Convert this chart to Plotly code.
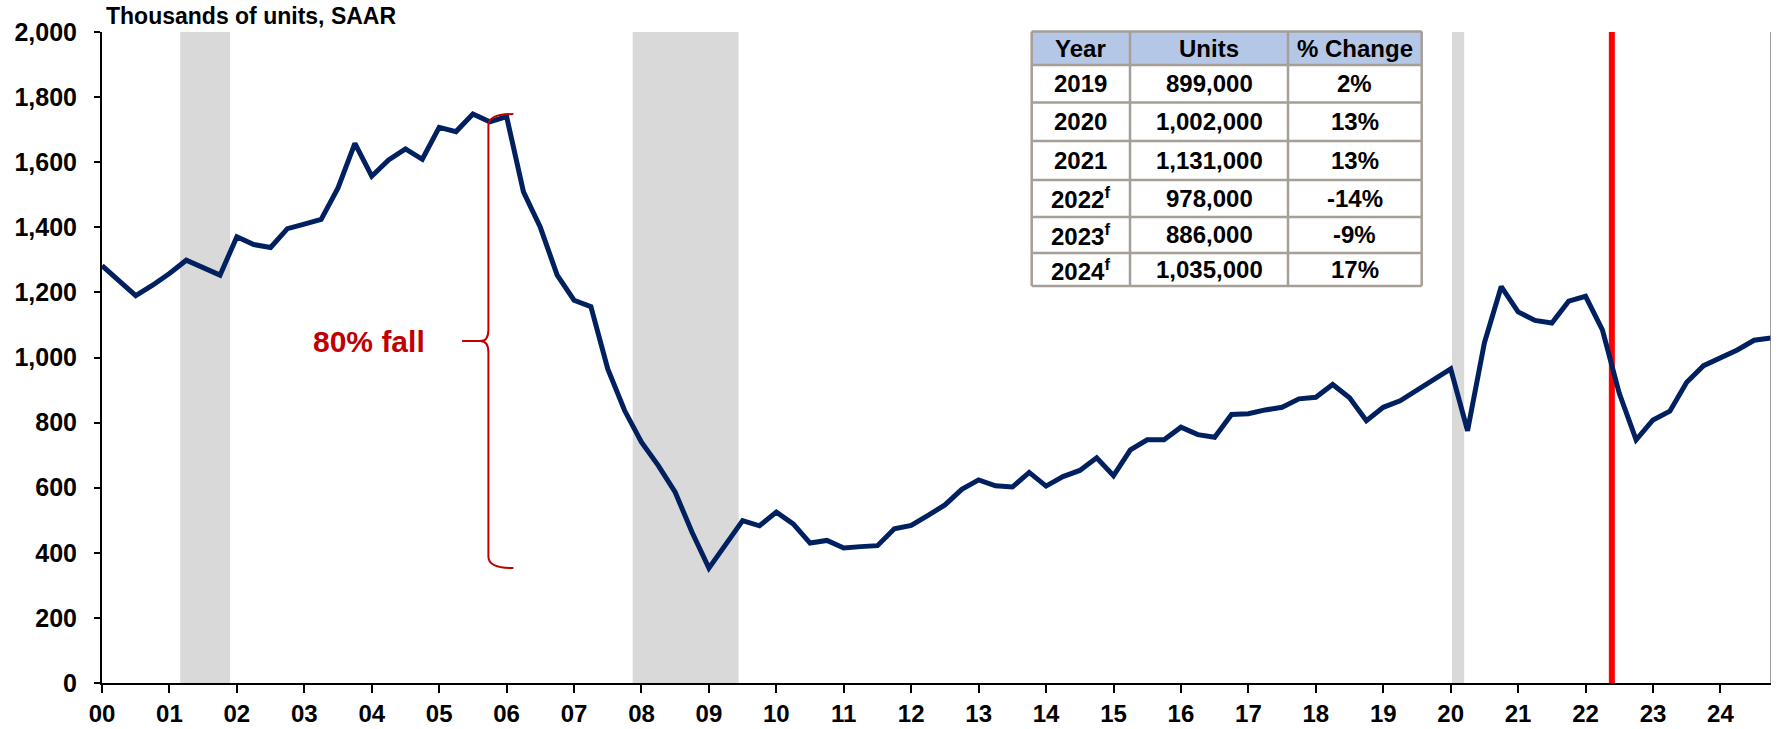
import plotly.graph_objects as go

# quarterly housing starts, thousands of units SAAR (2000Q1 .. 2024Q4)
years = list(range(2000, 2025))
units = [
    1282, 1236, 1190, 1222,   # 2000
    1258, 1299, 1274, 1253,   # 2001
    1371, 1347, 1338, 1396,   # 2002
    1410, 1424, 1521, 1658,   # 2003
    1557, 1607, 1641, 1609,   # 2004
    1707, 1694, 1748, 1724,   # 2005
    1740, 1509, 1400, 1253,   # 2006
    1176, 1156, 965, 837,     # 2007
    740, 668, 586, 463,       # 2008
    353, 426, 499, 483,       # 2009
    525, 489, 430, 438,       # 2010
    415, 419, 422, 474,       # 2011
    484, 515, 547, 595,       # 2012
    624, 606, 602, 647,       # 2013
    605, 634, 653, 692,       # 2014
    637, 716, 747, 747,       # 2015
    786, 763, 755, 825,       # 2016
    827, 839, 847, 873,       # 2017
    878, 917, 876, 806,       # 2018
    847, 867, 900, 934,       # 2019
    965, 775, 1045, 1218,     # 2020
    1140, 1114, 1106, 1173,   # 2021
    1188, 1085, 890, 747,     # 2022
    808, 835, 924, 975,       # 2023
    998, 1023, 1053, 1060,    # 2024
]
quarters = [y + q / 4 for y in years for q in range(4)]

# recession periods (fractional years)
recessions = [(2001.16, 2001.90), (2007.87, 2009.44), (2020.02, 2020.20)]
forecast_line = 2022.39

tick_vals = years
tick_text = [f"{y % 100:02d}" for y in years]

table_header = ["Year", "Units", "% Change"]
table_years = ["2019", "2020", "2021", "2022<sup>f</sup>", "2023<sup>f</sup>", "2024<sup>f</sup>"]
table_units = ["899,000", "1,002,000", "1,131,000", "978,000", "886,000", "1,035,000"]
table_change = ["2%", "13%", "13%", "-14%", "-9%", "17%"]

FONT = "Liberation Sans, Arial, sans-serif"
NAVY = "#002060"
DARKRED = "#C00000"
W, H = 1781, 729
# plot area in pixels: x 102..1771, y 32..683
ML, MR, MT, MB = 102, 10, 32, 46


def px_x(px):
    return (px - ML) / (W - ML - MR)


def px_y(py):
    return (H - MB - py) / (H - MT - MB)


fig = go.Figure()

fig.add_trace(go.Scatter(
    x=quarters, y=units, mode="lines",
    line=dict(color=NAVY, width=5),
    showlegend=False, hoverinfo="skip",
))

# recession shading
for x0, x1 in recessions:
    fig.add_shape(type="rect", xref="x", yref="paper", x0=x0, x1=x1, y0=0, y1=1,
                  fillcolor="#D9D9D9", line=dict(width=0), layer="below")

# forecast marker
fig.add_shape(type="line", xref="x", yref="paper", x0=forecast_line, x1=forecast_line,
              y0=0, y1=1, line=dict(color="#FF0000", width=6), layer="below")

# right border
fig.add_shape(type="line", xref="x", yref="paper", x0=quarters[-1], x1=quarters[-1],
              y0=0, y1=1, line=dict(color="#7F7F7F", width=1.5))

# brace from peak to trough
top, bot = max(units), min(units)
mid = (top + bot) / 2
xv, xe, xt = 2005.73, 2006.1, 2005.34
d = 35
brace = (
    f"M {xe},{top} Q {xv},{top} {xv},{top - d} "
    f"L {xv},{mid + d} Q {xv},{mid} {xv - 0.12},{mid} L {xt},{mid} "
    f"M {xv - 0.12},{mid} Q {xv},{mid} {xv},{mid - d} "
    f"L {xv},{bot + d} Q {xv},{bot} {xe},{bot}"
)
fig.add_shape(type="path", xref="x", yref="y", path=brace,
              line=dict(color=DARKRED, width=2))

fig.add_annotation(x=2004.82, y=mid, xref="x", yref="y", text="<b>80% fall</b>",
                   showarrow=False, xanchor="right", yanchor="middle",
                   font=dict(family=FONT, size=30, color=DARKRED))

fig.add_annotation(x=px_x(104), y=px_y(16), xref="paper", yref="paper",
                   text="<b>Thousands of units, SAAR</b>", showarrow=False,
                   xanchor="left", yanchor="middle",
                   font=dict(family=FONT, size=23, color="black"))

# summary table drawn as cells
col_edges = [1031.7, 1130, 1288, 1421.7]
row_edges = [31.5, 65, 102.5, 141, 180, 217, 253, 286]
BORDER = "#A59F96"
fig.add_shape(type="rect", xref="paper", yref="paper",
              x0=px_x(col_edges[0]), x1=px_x(col_edges[-1]),
              y0=px_y(row_edges[0]), y1=px_y(row_edges[1]),
              fillcolor="#B4C7E7", line=dict(width=0))
fig.add_shape(type="rect", xref="paper", yref="paper",
              x0=px_x(col_edges[0]), x1=px_x(col_edges[-1]),
              y0=px_y(row_edges[1]), y1=px_y(row_edges[-1]),
              fillcolor="white", line=dict(width=0))
for cx in col_edges:
    fig.add_shape(type="line", xref="paper", yref="paper",
                  x0=px_x(cx), x1=px_x(cx), y0=px_y(row_edges[0]), y1=px_y(row_edges[-1]),
                  line=dict(color=BORDER, width=2.5))
for ry in row_edges:
    fig.add_shape(type="line", xref="paper", yref="paper",
                  x0=px_x(col_edges[0]), x1=px_x(col_edges[-1]), y0=px_y(ry), y1=px_y(ry),
                  line=dict(color=BORDER, width=2.5))

columns = [[table_header[0]] + table_years,
           [table_header[1]] + table_units,
           [table_header[2]] + table_change]
for ci, col in enumerate(columns):
    cx = px_x((col_edges[ci] + col_edges[ci + 1]) / 2)
    for ri, txt in enumerate(col):
        cy = px_y((row_edges[ri] + row_edges[ri + 1]) / 2)
        fig.add_annotation(x=cx, y=cy, xref="paper", yref="paper", text=f"<b>{txt}</b>",
                           showarrow=False, xanchor="center", yanchor="middle",
                           font=dict(family=FONT, size=24, color="black"))

fig.update_layout(
    width=W, height=H,
    margin=dict(l=ML, r=MR, t=MT, b=MB),
    plot_bgcolor="white", paper_bgcolor="white",
    font=dict(family=FONT, size=25, color="black"),
)
fig.update_xaxes(
    range=[2000, quarters[-1]], tickvals=tick_vals, ticktext=[f"<b>{t}</b>" for t in tick_text],
    showline=True, linecolor="black", linewidth=2, ticks="outside", ticklen=8,
    tickwidth=2, tickcolor="black", showgrid=False, zeroline=False,
    tickfont=dict(size=24), ticklabelstandoff=0, automargin=False,
)
fig.update_yaxes(
    range=[0, 2000], tickvals=list(range(0, 2001, 200)),
    ticktext=[f"<b>{v:,}</b>" for v in range(0, 2001, 200)],
    showline=True, linecolor="black", linewidth=2, ticks="outside", ticklen=6,
    tickwidth=2, tickcolor="black", showgrid=False, zeroline=False,
    ticklabelstandoff=12, automargin=False,
)

# drop the default page margin so the figure fills the window
fig.write_html("out.html", config={"displayModeBar": False},
               post_script="document.body.style.margin = '0';")
